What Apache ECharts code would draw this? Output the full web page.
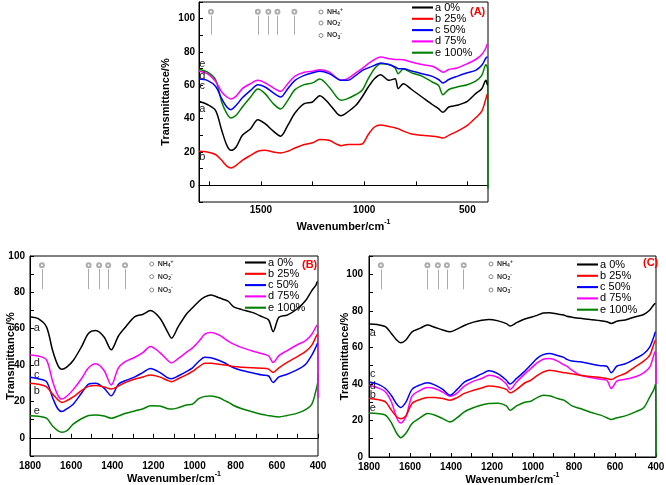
<!DOCTYPE html>
<html><head><meta charset="utf-8">
<script src="https://cdn.jsdelivr.net/npm/echarts@6.0.0/dist/echarts.min.js"></script>
<style>html,body{margin:0;padding:0;background:#fff}#c{width:666px;height:485px}</style>
</head><body><div id="c"></div>
<script>
// Wavenumber grid (cm-1)
const W = [1800,1760,1720,1690,1665,1645,1620,1590,1550,1515,1480,1440,1405,1370,1335,1290,1250,1215,1170,1130,1112,1080,1040,1010,980,950,920,880,850,835,810,770,720,670,640,618,590,550,500,460,430,410,402,400];

// Panel (A)
const A_a = [50.4,48.5,45,33,24,21,23,30,34,39.4,37,32.5,29.5,36,43.4,49,50,53.8,49,43,41.8,44,48,53,59,64,66.4,63,64,58,61,57.5,53,48.5,46,43.8,47,48,50.4,55,58,63,60,60];
const A_b = [20.4,20,18.5,15,11.5,10.4,12,15,18,20.5,21,20,19.4,20.5,22.4,24.5,25.5,27.5,27,24.5,23.8,24.5,24.5,24.8,30.5,35,36.2,35.3,34.5,34,32.5,30.8,30,29.5,29,28.4,30,32.4,36,40.5,44.5,52,55,55];
const A_c = [63.8,63,59.4,52,47,45.4,48,52.5,57,60.4,59,55.5,53,58,63,66,67.5,68.4,67,64,63,63,66,68.8,70.5,72,73.4,72.5,71,70,70,68.6,67,65.4,63.5,61.4,63.5,65.4,67.5,69,72,76.4,77,77];
const A_d = [68.5,67,62.4,56,53,51.8,53.5,58,61,63,61.5,58.5,56.4,61,65.5,67.8,68.5,69.4,68,64,63,64,67.5,70,73,75.5,77,76,75.5,75.5,75.3,74,72.5,71.4,69.5,67.8,69.5,70.4,73,75.5,78.5,82.4,85,85];
const A_e = [69.5,68,63.4,50,43,40.4,42,47,53,57.8,55,49,45.8,51,57.4,60.4,61.5,63.8,59,52.5,51,52,54.5,57,64,70,73,72.5,70.4,67,69.8,67.5,65.5,62,60,54.4,57.5,59,60.4,62.5,66,72.4,70,-2];

// Panel (B)
const B_a = [66.6,65.5,61,48,40,37.7,39,42.5,50,57.5,59,55.5,48.4,56,61,66.6,68,70,66,58,54.8,61,68,71.5,75,77.5,78.6,77,75.8,75,72,70.5,69,66.5,64.8,58.4,66.3,67.5,71,75.5,81,84,86,86];
const B_b = [30,29.5,28,24,21,19.4,20.5,22.5,26,28.3,28.8,28,26.8,28.5,30.5,32.3,33.5,34.6,33.5,31.5,30.9,32.5,34.6,36.5,39,41,41,40.5,40,39.8,39.2,38.8,38.5,38.3,37.8,35.9,38.5,41.5,44.7,47.5,51,55.5,57,57];
const B_c = [33.3,32.5,30.9,22,16,14.5,16,18.5,24.5,29.5,30,27.3,23.1,29.5,31.5,33.5,36,38.1,36,33,32.5,34,36.4,38.5,42,44.3,44,42.5,41,40,38.5,37,35.8,34.5,34,30.4,33.5,35,37.5,40.5,45.5,50,52,52];
const B_d = [45.6,45,42.9,31,23.5,21.3,23,26.5,32.5,38.5,40.7,37,29.1,38.5,42,44.3,47,50.2,47,42.5,41.2,43.5,47,49.5,53,57,57.9,56.5,54.2,53,51.5,49.6,47.8,46.2,45,41.4,45.2,48,51.2,53.5,57,61,62,22];
const B_e = [12.1,11.8,10.8,6.5,4,3.1,4,7.5,10.5,12.3,12.6,12,10.8,12,13.5,14.8,16,17.6,17.5,16,15.8,16.5,18,18.5,21.5,22.8,23,22,20.3,19.5,17.8,16,14.3,12.8,12.2,11.8,11.5,12.3,13.6,15.5,18.5,26,30,35];

// Panel (C)
const C_a = [72.8,72.5,71.3,67.5,64,62.5,64,68.5,70.5,72.2,71,69.5,68.5,70,72,73.8,74.8,75.3,74.5,73,71.7,73.5,75.5,76.5,77.5,78.8,79,78.2,77.7,77,76.5,75.9,75.2,74.6,74,73.1,74.3,75,76.8,78,80.4,83.5,84,84];
const C_b = [32,31.5,30.2,25.5,22,21,22.5,29.3,31.5,32.6,32.5,32,31.1,32.5,34.8,36.5,37.8,38.8,38.3,37,35.1,37,40.5,42,44.5,46.5,47.5,46.8,46.1,46,45.5,44.8,44,43.5,43,42.4,44,45.7,49.5,52.5,55.8,62,64,64];
const C_c = [41.1,40,37.5,33.5,29,27.1,30,37,39.5,40.6,39.5,37,33.8,37,41,43.3,45.5,47.2,45.5,42,39.9,43,47,50.5,54,56,56.7,55.5,54.5,53.4,52.5,52.1,51,50,49.7,46.1,49.8,51,53.9,56.5,60.3,66,68.5,68.5];
const C_d = [39.3,38,35.6,30,21.5,18.6,22,33.3,36.5,38,37.5,35.5,33.3,35,38.8,41.5,43,44.8,43.5,40,36.9,41,45.5,48.5,51.5,53.5,53.9,52.5,50.5,49.7,47.5,44.8,43.5,42.5,42,37.5,41.7,42.5,43.9,46,49.3,56,58,40];
const C_e = [24.1,23.8,22.9,18.5,13,10.6,13,18.3,21.5,23.8,23,21,19.2,21.5,24.7,27,28.5,29.3,29.4,28,25.6,28,30,30.5,32.5,33.8,33.5,32,31.1,30,28,26.5,24.5,22.9,21.5,20.5,21.5,22.5,24.7,27,32.9,37,40,0];

const seriesNames = ['a 0%','b 25%','c 50%','d 75%','e 100%'];
const letters = ['a','b','c','d','e'];
const colors = ['#000000','#ff0000','#0000ff','#ff00ff','#008000'];

// curve letter label positions (wavenumber, transmittance) per panel, order a..e
const A_lblX = 1784, A_lblY = [45.8, 17, 59.4, 65.8, 73];
const B_lblX = 1767, B_lblY = [60.3, 26, 34.6, 41.4, 15];
const C_lblX = 1782, C_lblY = [68, 34.2, 45.3, 38.9, 27.1];

// assignment markers (wavenumber)
const annotWave = [1742, 1515, 1464, 1420, 1338];
const A_annot = [104.2, 101.8, 90.4];
const B_annot = [94.9, 92.8, 81.8];
const C_annot = [104.9, 102.6, 91.8];

const yLabelVals = [0,20,40,60,80,100];
const A_xLabels = [500,1000,1500];
const A_xTicks = [500,750,1000,1250,1500,1750];

const FONT = 'Liberation Sans';
const panels = [
  {vals:[A_a,A_b,A_c,A_d,A_e], lx:A_lblX, ly:A_lblY, an:A_annot},
  {vals:[B_a,B_b,B_c,B_d,B_e], lx:B_lblX, ly:B_lblY, an:B_annot},
  {vals:[C_a,C_b,C_c,C_d,C_e], lx:C_lblX, ly:C_lblY, an:C_annot}
];

const series = [];
panels.forEach((p, gi) => {
  p.vals.forEach((v, k) => {
    series.push({
      type:'line', name: seriesNames[k], xAxisIndex: gi, yAxisIndex: gi,
      data: W.map((w, i) => [w, v[i]]),
      symbol:'none', smooth:0.3, lineStyle:{color:colors[k], width:1.5}, itemStyle:{color:colors[k]},
      z: 5 - k + 2,
      markPoint:{
        symbol:'circle', symbolSize:0, silent:true,
        label:{show:true, formatter: letters[k], fontFamily:FONT, fontSize:11, color:'#222', position:'inside'},
        data:[{coord:[p.lx, p.ly[k]]}]
      }
    });
  });
  series.push({
    type:'scatter', name:'annot'+gi, xAxisIndex:gi, yAxisIndex:gi, silent:true,
    symbol:'emptyCircle', symbolSize:4, itemStyle:{color:'#999', borderColor:'#999', borderWidth:1},
    data: annotWave.map(w => [w, p.an[0]]), z:10,
    markLine:{silent:true, symbol:'none', label:{show:false}, lineStyle:{color:'#aaa', type:'solid', width:1},
      data: annotWave.map(w => [{coord:[w, p.an[1]]}, {coord:[w, p.an[2]]}])}
  });
});

const yFmt = v => (yLabelVals.indexOf(v) >= 0 ? String(v) : '');
const axisCommon = {
  axisLine:{lineStyle:{color:'#000', width:1}},
  axisTick:{inside:true, length:4, lineStyle:{color:'#000'}},
  splitLine:{show:false},
  nameMoveOverlap:false
};
const nameRich = {sup:{fontSize:7, fontWeight:'bold', fontFamily:FONT, color:'#000', verticalAlign:'top', padding:[0,0,8,0]}};

const option = {
  animation:false,
  backgroundColor:'#fff',
  grid:[
    {left:199, top:2, right:178, bottom:283, show:true, borderColor:'#000', borderWidth:1, containLabel:false, outerBoundsMode:'none'},
    {left:30, top:256, right:348, bottom:29, show:true, borderColor:'#000', borderWidth:1, containLabel:false, outerBoundsMode:'none'},
    {left:369, top:256, right:10, bottom:28, show:true, borderColor:'#000', borderWidth:1, containLabel:false, outerBoundsMode:'none'}
  ],
  xAxis:[
    Object.assign({}, axisCommon, {type:'value', gridIndex:0, min:400, max:1800, inverse:true,
      axisTick:{inside:true, length:4, lineStyle:{color:'#000'}, customValues:A_xTicks},
      axisLabel:{customValues:A_xLabels, formatter: v => String(v), margin:3, fontFamily:FONT, fontWeight:'bold', fontSize:10, color:'#000'},
      name:'Wavenumber/cm{sup|-1}', nameLocation:'middle', nameGap:17,
      nameTextStyle:{fontFamily:FONT, fontWeight:'bold', fontSize:11, color:'#000', rich:nameRich}}),
    Object.assign({}, axisCommon, {type:'value', gridIndex:1, min:400, max:1800, interval:100, inverse:true,
      axisLabel:{formatter: v => (v % 200 === 0 ? String(v) : ''), margin:5, fontFamily:FONT, fontWeight:'bold', fontSize:10, color:'#000', showMinLabel:true, showMaxLabel:true},
      name:'Wavenumber/cm{sup|-1}', nameLocation:'middle', nameGap:15,
      nameTextStyle:{fontFamily:FONT, fontWeight:'bold', fontSize:11, color:'#000', rich:nameRich}}),
    Object.assign({}, axisCommon, {type:'value', gridIndex:2, min:400, max:1800, interval:100, inverse:true,
      axisLabel:{formatter: v => (v % 200 === 0 ? String(v) : ''), margin:5, fontFamily:FONT, fontWeight:'bold', fontSize:10, color:'#000', showMinLabel:true, showMaxLabel:true},
      name:'Wavenumber/cm{sup|-1}', nameLocation:'middle', nameGap:15,
      nameTextStyle:{fontFamily:FONT, fontWeight:'bold', fontSize:11, color:'#000', rich:nameRich}})
  ],
  yAxis:[
    Object.assign({}, axisCommon, {type:'value', gridIndex:0, min:-10, max:110, interval:10,
      axisLabel:{formatter:yFmt, margin:4, fontFamily:FONT, fontWeight:'bold', fontSize:10, color:'#000'},
      name:'Transmittance/%', nameLocation:'middle', nameGap:28,
      nameTextStyle:{fontFamily:FONT, fontWeight:'bold', fontSize:11, color:'#000'}}),
    Object.assign({}, axisCommon, {type:'value', gridIndex:1, min:-10, max:100, interval:10,
      axisLabel:{formatter:yFmt, margin:5, fontFamily:FONT, fontWeight:'bold', fontSize:10, color:'#000'},
      name:'Transmittance/%', nameLocation:'middle', nameGap:14,
      nameTextStyle:{fontFamily:FONT, fontWeight:'bold', fontSize:11, color:'#000'}}),
    Object.assign({}, axisCommon, {type:'value', gridIndex:2, min:0, max:110, interval:10,
      axisLabel:{formatter:yFmt, margin:6, fontFamily:FONT, fontWeight:'bold', fontSize:10, color:'#000'},
      name:'Transmittance/%', nameLocation:'middle', nameGap:19,
      nameTextStyle:{fontFamily:FONT, fontWeight:'bold', fontSize:11, color:'#000'}})
  ],
  legend:[
    {left:412, top:2, orient:'vertical', data:seriesNames},
    {left:245, top:257, orient:'vertical', data:seriesNames},
    {left:577, top:259, orient:'vertical', data:seriesNames}
  ].map(l => Object.assign(l, {
    padding:0, itemWidth:21, itemHeight:11, itemGap:0.3, selectedMode:false,
    icon:'path://M0,0 L20,0 L20,2 L0,2 Z',
    textStyle:{fontFamily:FONT, fontSize:11, color:'#000', padding:[0,0,0,-3]}
  })),
  graphic: [],
  series: series
};

// panel tags and assignment legends
const tags = [['(A)',470,12],['(B)',302,265],['(C)',643,263]];
tags.forEach(t => option.graphic.push({type:'text', x:t[1], y:t[2], z:100,
  style:{text:t[0], font:'bold 11px "Liberation Sans"', fill:'#ff0000', verticalAlign:'middle'}}));
const ionLeg = [[321,[12,23,35.5]],[151.7,[264,276.7,290]],[491,[264,276.7,290]]];
const ionTexts = ['NH{s|4}{p|+}','NO{s|2}{p|-}','NO{s|3}{p|-}'];
ionLeg.forEach(il => {
  il[1].forEach((cy, j) => {
    option.graphic.push({type:'circle', shape:{cx:il[0], cy:cy, r:2}, z:100,
      style:{fill:'#fff', stroke:'#888', lineWidth:1}});
    option.graphic.push({type:'text', x:il[0]+6, y:cy, z:100,
      style:{text:ionTexts[j], font:'bold 7px "Liberation Sans"', fill:'#333', verticalAlign:'middle',
        rich:{s:{fontSize:5, fontWeight:'bold', fill:'#333', padding:[4,0,0,0]}, p:{fontSize:5, fontWeight:'bold', fill:'#333', padding:[0,0,4,0]}}}});
  });
});

const chart = echarts.init(document.getElementById('c'), null, {renderer:'canvas'});
chart.setOption(option);
</script></body></html>
